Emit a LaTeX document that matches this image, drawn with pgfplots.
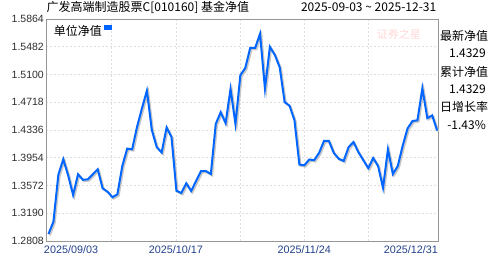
\documentclass[border=0pt]{standalone}
\usepackage{pgfplots}
\pgfplotsset{compat=1.18}
\usepackage{pgfplotstable}
\usepackage{fontspec}
\setmainfont{Liberation Sans}
\newfontfamily\cjk{Noto Sans CJK SC}
\definecolor{lineblue}{RGB}{0,102,255}
\definecolor{xlab}{RGB}{35,65,140}
\definecolor{ylab}{RGB}{45,45,45}
\definecolor{gridc}{RGB}{222,222,222}
\definecolor{boxc}{RGB}{150,150,150}
\pgfplotstableread{
i v
0 1.2904
1 1.3074
2 1.3720
3 1.3933
4 1.3710
5 1.3441
6 1.3726
7 1.3650
8 1.3657
9 1.3726
10 1.3795
11 1.3533
12 1.3487
13 1.3410
14 1.3450
15 1.3840
16 1.4080
17 1.4070
18 1.4380
19 1.4635
20 1.4877
21 1.4336
22 1.4100
23 1.4026
24 1.4370
25 1.4240
26 1.3500
27 1.3469
28 1.3602
29 1.3496
30 1.3634
31 1.3770
32 1.3770
33 1.3730
34 1.4420
35 1.4580
36 1.4430
37 1.4900
38 1.4420
39 1.5090
40 1.5190
41 1.5465
42 1.5465
43 1.5660
44 1.4905
45 1.5480
46 1.5370
47 1.5200
48 1.4720
49 1.4670
50 1.4470
51 1.3860
52 1.3850
53 1.3930
54 1.3920
55 1.4020
56 1.4185
57 1.4185
58 1.4020
59 1.3940
60 1.3910
61 1.4100
62 1.4170
63 1.4030
64 1.3920
65 1.3810
66 1.3950
67 1.3840
68 1.3540
69 1.4070
70 1.3730
71 1.3840
72 1.4120
73 1.4360
74 1.4460
75 1.4470
76 1.4910
77 1.4500
78 1.4537
79 1.4329
}\navdata
\begin{document}
\begin{tikzpicture}[x=1pt,y=1pt]
\useasboundingbox (0,0) rectangle (488,255);
\begin{axis}[
  at={(46pt,14pt)}, anchor=south west,
  scale only axis, width=392pt, height=222pt,
  xmin=-0.51, xmax=79.18,
  ymin=1.2808, ymax=1.5864,
  axis line style={draw=boxc, line width=0.8pt},
  major tick length=0pt,
  grid=major,
  major grid style={gridc, dash pattern=on 2pt off 2pt, line width=0.6pt},
  ytick={1.2808,1.3190,1.3572,1.3954,1.4336,1.4718,1.5100,1.5482,1.5864},
  yticklabels={1.2808,1.3190,1.3572,1.3954,1.4336,1.4718,1.5100,1.5482,1.5864},
  yticklabel style={font=\fontsize{10.5}{12}\selectfont, text=ylab, inner sep=0pt, anchor=east, xshift=-2pt},
  xtick={-0.51,12.7,25.9,38.95,52.0,65.0,79.18},
  xticklabels={\makebox[0pt][l]{\hspace*{-2pt}2025/09/03},{},2025/10/17,{},2025/11/24,{},\makebox[0pt][r]{2025/12/31}},
  xticklabel style={font=\fontsize{10.8}{12}\selectfont, text=xlab, inner sep=0pt, anchor=north, yshift=-4.5pt},
  legend plot pos=right,
  legend style={at={(rel axis cs:0.012,0.985)}, anchor=north west, draw=none, fill=none,
    font=\cjk\fontsize{12}{13}\selectfont, inner sep=1pt,
    /tikz/every even column/.append style={column sep=2pt}},
  legend image code/.code={\fill[lineblue] (0pt,2.5pt) rectangle (6pt,5pt);},
  clip=false,
]
\addplot[gray!45, line width=2pt, xshift=1.3pt, yshift=-1.3pt, forget plot] table[x=i,y=v] {\navdata};
\addplot[lineblue, line width=2pt] table[x=i,y=v] {\navdata};
\addlegendentry{单位净值}
\node[text=red!70, opacity=0.22, font=\cjk\fontsize{11}{11}\selectfont] at (rel axis cs:0.9,0.93) {证券之星};
\end{axis}
\node[anchor=west, inner sep=0pt, font=\cjk\fontsize{12}{13}\selectfont] at (46.5,248) {广发高端制造股票C[010160] 基金净值};
\node[anchor=east, inner sep=0pt, font=\cjk\fontsize{12}{13}\selectfont] at (436.5,248) {2025-09-03 \char`~{} 2025-12-31};
\begin{scope}[every node/.style={inner sep=0pt, font=\cjk\fontsize{12}{13}\selectfont}]
\node[anchor=west] at (440,219) {最新净值};
\node[anchor=east] at (486,201.7) {1.4329};
\node[anchor=west] at (440,183.3) {累计净值};
\node[anchor=east] at (486,165.7) {1.4329};
\node[anchor=west] at (440,148.3) {日增长率};
\node[anchor=east] at (486,130) {-1.43\%};
\end{scope}
\end{tikzpicture}
\end{document}
